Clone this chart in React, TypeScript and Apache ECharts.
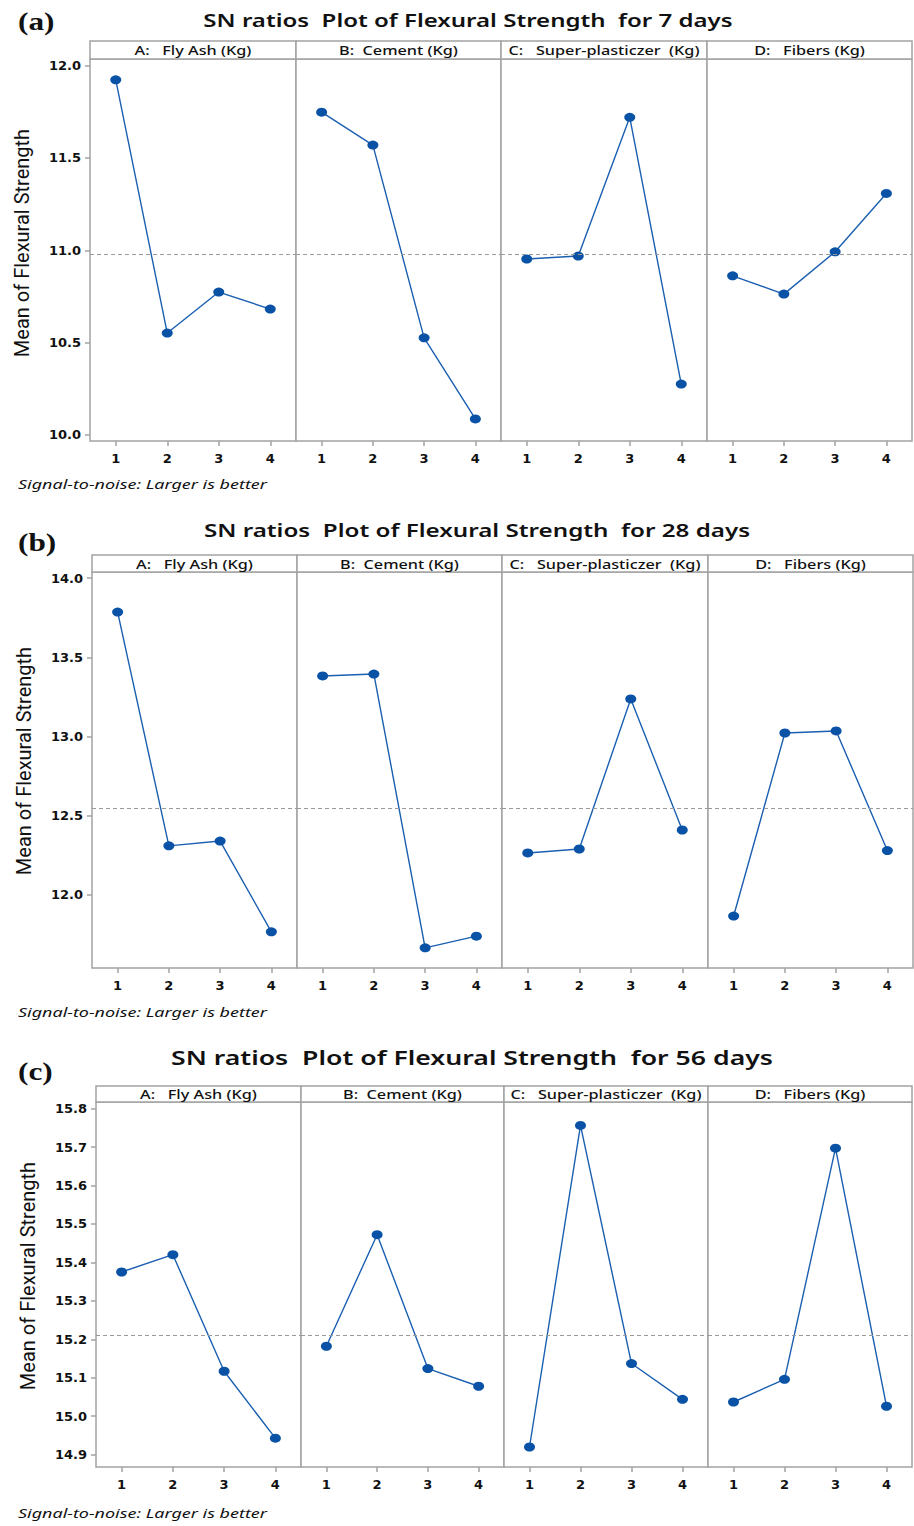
import React, { useEffect, useRef } from "react";
import * as echarts from "echarts";

const levels = ["1", "2", "3", "4"];
const factorNames = [
  "A:   Fly Ash (Kg)",
  "B:  Cement (Kg)",
  "C:   Super-plasticzer  (Kg)",
  "D:   Fibers (Kg)",
];

// Mean SN ratios, per factor (A, B, C, D)
const days7A = [11.923, 10.552, 10.774, 10.682];
const days7B = [11.748, 11.57, 10.526, 10.087];
const days7C = [10.953, 10.969, 11.72, 10.276];
const days7D = [10.862, 10.763, 10.992, 11.308];

const days28A = [13.785, 12.31, 12.34, 11.767];
const days28B = [13.382, 13.394, 11.666, 11.74];
const days28C = [12.265, 12.29, 13.237, 12.41];
const days28D = [11.867, 13.022, 13.035, 12.28];

const days56A = [15.375, 15.42, 15.117, 14.943];
const days56B = [15.182, 15.472, 15.124, 15.078];
const days56C = [14.92, 15.756, 15.137, 15.044];
const days56D = [15.037, 15.096, 15.697, 15.026];

const ticks7 = [10.0, 10.5, 11.0, 11.5, 12.0];
const ticks28 = [12.0, 12.5, 13.0, 13.5, 14.0];
const ticks56 = [14.9, 15.0, 15.1, 15.2, 15.3, 15.4, 15.5, 15.6, 15.7, 15.8];

const titles = [
  "SN ratios  Plot of Flexural Strength  for 7 days",
  "SN ratios  Plot of Flexural Strength  for 28 days",
  "SN ratios  Plot of Flexural Strength  for 56 days",
];
const letters = ["(a)", "(b)", "(c)"];
const yName = "Mean of Flexural Strength";
const note = "Signal-to-noise: Larger is better";

const panels = [
  {
    data: [days7A, days7B, days7C, days7D],
    ticks: ticks7,
    min: 9.9675,
    max: 12.036,
    strip: 41,
    top: 59,
    bottom: 441,
    xs: [90, 296, 501, 707, 912],
    titleX: 468,
    titleY: 20,
    titleSize: 18.5,
    letterY: 22,
    noteY: 484,
    nameX: 22,
    nameY: 243,
  },
  {
    data: [days28A, days28B, days28C, days28D],
    ticks: ticks28,
    min: 11.539,
    max: 14.038,
    strip: 555,
    top: 572,
    bottom: 968,
    xs: [92, 297, 502, 708, 913],
    titleX: 477,
    titleY: 530,
    titleSize: 18.6,
    letterY: 543,
    noteY: 1012,
    nameX: 24,
    nameY: 761,
  },
  {
    data: [days56A, days56B, days56C, days56D],
    ticks: ticks56,
    min: 14.868,
    max: 15.817,
    strip: 1086,
    top: 1102,
    bottom: 1467,
    xs: [96, 301, 504, 708, 912],
    titleX: 472,
    titleY: 1057,
    titleSize: 20.5,
    letterY: 1072,
    noteY: 1513,
    nameX: 28,
    nameY: 1276,
  },
];

const FRAME = "#a3a3a3";
const TEXT = "#111";
const UI_FONT = '"Noto Sans", "DejaVu Sans", sans-serif';
const TICK_FONT = '"DejaVu Sans", "Noto Sans", sans-serif';
const STRETCH = 1.3;

export default function App() {
  const ref = useRef<HTMLDivElement>(null);

  useEffect(() => {
    if (!ref.current) return;
    const chart = echarts.init(ref.current, null, { renderer: "svg" });

    const grid: any[] = [];
    const xAxis: any[] = [];
    const yAxis: any[] = [];
    const series: any[] = [];
    const graphic: any[] = [];

    panels.forEach((p, pi) => {
      const all = p.data.flat();
      const grand = all.reduce((s, v) => s + v, 0) / all.length;

      graphic.push({
        type: "text",
        x: p.titleX,
        y: p.titleY,
        scaleX: STRETCH,
        style: {
          text: titles[pi],
          fontSize: p.titleSize,
          fontWeight: 600,
          fontFamily: UI_FONT,
          fill: TEXT,
          align: "center",
          verticalAlign: "middle",
        },
      });
      graphic.push({
        type: "text",
        x: 18,
        y: p.letterY,
        scaleX: 1.25,
        style: {
          text: letters[pi],
          fontSize: 25,
          fontWeight: "bold",
          fontFamily: '"Liberation Serif", "DejaVu Serif", serif',
          fill: TEXT,
          align: "left",
          verticalAlign: "middle",
        },
      });
      graphic.push({
        type: "text",
        x: 18,
        y: p.noteY,
        scaleX: 1.33,
        style: {
          text: note,
          fontSize: 13.5,
          fontStyle: "italic",
          fontFamily: UI_FONT,
          fill: TEXT,
          align: "left",
          verticalAlign: "middle",
        },
      });
      graphic.push({
        type: "text",
        x: p.nameX,
        y: p.nameY,
        rotation: Math.PI / 2,
        style: {
          text: yName,
          fontSize: 20,
          fontFamily: '"Liberation Sans Narrow", "Roboto", sans-serif',
          fill: TEXT,
          align: "center",
          verticalAlign: "middle",
        },
      });

      for (let f = 0; f < 4; f++) {
        const idx = pi * 4 + f;
        const left = p.xs[f];
        const width = p.xs[f + 1] - p.xs[f];
        grid.push({
          left,
          width,
          top: p.top,
          height: p.bottom - p.top,
          show: true,
          borderColor: FRAME,
          borderWidth: 1.5,
          backgroundColor: "#fff",
        });
        graphic.push({
          type: "rect",
          shape: { x: left, y: p.strip, width, height: p.top - p.strip },
          style: { fill: "#fff", stroke: FRAME, lineWidth: 1.5 },
        });
        graphic.push({
          type: "text",
          x: left + width / 2,
          y: (p.strip + p.top) / 2 + 0.5,
          scaleX: 1.3,
          style: {
            text: factorNames[f],
            fontSize: 12.5,
            fontWeight: 500,
            fontFamily: UI_FONT,
            fill: TEXT,
            align: "center",
            verticalAlign: "middle",
          },
        });
        xAxis.push({
          type: "category",
          gridIndex: idx,
          data: levels,
          boundaryGap: true,
          axisLine: { show: false },
          axisTick: {
            show: true,
            alignWithLabel: true,
            length: 5,
            lineStyle: { color: FRAME, width: 1.5 },
          },
          axisLabel: {
            margin: 11,
            fontSize: 13,
            fontWeight: "bold",
            fontFamily: TICK_FONT,
            color: TEXT,
          },
          splitLine: { show: false },
        });
        yAxis.push({
          type: "value",
          gridIndex: idx,
          min: p.min,
          max: p.max,
          axisLine: { show: false },
          axisTick: {
            show: f === 0,
            length: 5,
            customValues: p.ticks,
            lineStyle: { color: FRAME, width: 1.5 },
          },
          axisLabel: {
            show: f === 0,
            customValues: p.ticks,
            margin: 9,
            fontSize: 13,
            fontWeight: "bold",
            fontFamily: TICK_FONT,
            color: TEXT,
            formatter: (v: number) => v.toFixed(1),
          },
          splitLine: { show: false },
        });
        series.push({
          type: "line",
          xAxisIndex: idx,
          yAxisIndex: idx,
          data: p.data[f],
          symbol: "circle",
          symbolSize: [11, 9],
          itemStyle: { color: "#0a52a5" },
          lineStyle: { color: "#1a5fb0", width: 1.4 },
          markLine: {
            silent: true,
            symbol: ["none", "none"],
            label: { show: false },
            lineStyle: { color: "#9a9a9a", type: [4, 3], width: 1.2 },
            data: [{ yAxis: grand }],
          },
          z: 3,
        });
      }
    });

    chart.setOption({
      animation: false,
      backgroundColor: "#fff",
      grid,
      xAxis,
      yAxis,
      series,
      graphic,
    });

    return () => chart.dispose();
  }, []);

  return (
    <div
      ref={ref}
      style={{ position: "absolute", left: 0, top: 0, width: 914, height: 1526 }}
    />
  );
}
